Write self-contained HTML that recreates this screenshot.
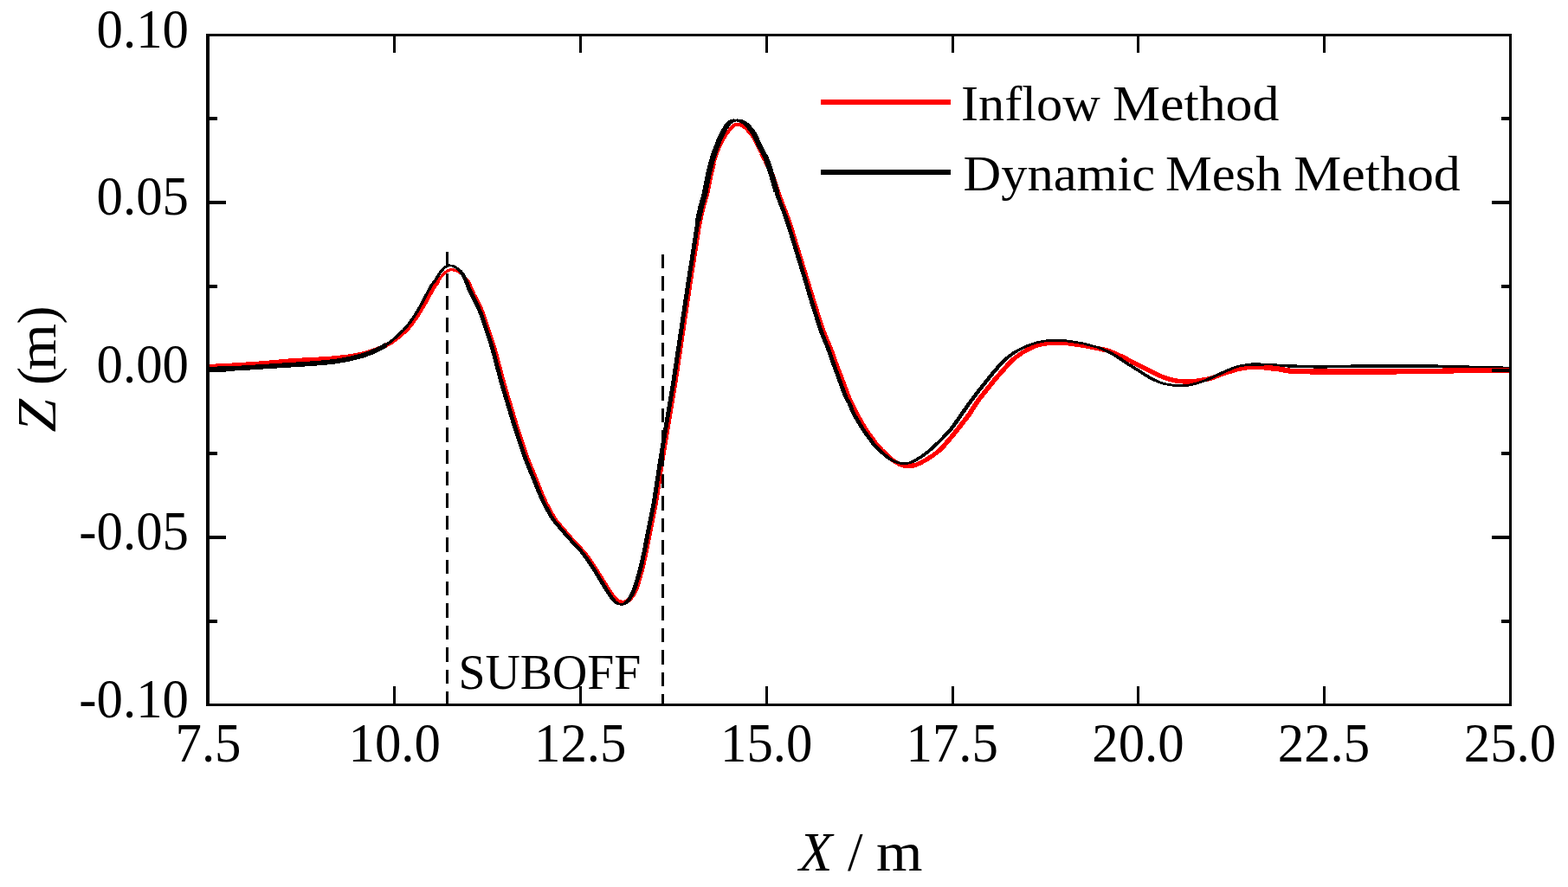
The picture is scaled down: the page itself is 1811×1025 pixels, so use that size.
<!DOCTYPE html>
<html lang="en">
<head>
<meta charset="utf-8">
<title>Wave profile: Inflow Method vs Dynamic Mesh Method</title>
<style>
html,body{margin:0;padding:0;background:#fff;}
body{width:1811px;height:1025px;overflow:hidden;}
svg{display:block;}
text{font-family:"Liberation Serif", "DejaVu Serif", serif;fill:#000;white-space:pre;}
</style>
</head>
<body>
<svg width="1811" height="1025" viewBox="0 0 1811 1025">
<rect x="0" y="0" width="1811" height="1025" fill="#fff"/>
<g id="curves">
<defs>
<clipPath id="plotclip"><rect x="240" y="42" width="1504" height="771"/></clipPath>
<path id="redA" d="M240.0 423.5 L254.5 423.0 L296.0 420.5 L338.0 416.8 L374.0 414.9 L389.0 413.7 L402.5 412.2 L413.5 410.2 L423.5 407.9 L433.0 404.8 L443.0 400.6 L451.5 395.9 L456.5 392.3 L463.0 387.0 L467.0 383.5 L470.5 380.0 L475.5 373.8 L482.0 364.5 L490.5 350.1 L498.0 336.3 L501.5 330.9 L506.0 324.7"/>
<path id="redC" d="M539.0 323.6 L540.5 326.5 L546.5 340.0 L549.5 345.2 L552.5 351.2 L556.0 359.3 L558.5 365.8 L569.5 399.0 L573.0 411.4 L580.0 438.0 L584.5 453.4 L595.5 490.0 L607.0 524.9 L609.5 531.8 L613.5 541.2 L625.0 569.9 L630.0 581.2 L638.0 595.8 L642.0 601.9 L658.0 620.7 L673.5 637.5 L678.5 643.9 L689.5 660.4 L704.5 684.5 L708.5 689.9 L711.5 693.1 L713.5 694.6 L715.5 695.6 L718.0 696.3 L719.5 696.5 L721.0 696.3 L723.5 695.4 L725.5 693.9 L728.0 691.5 L731.5 686.9 L734.0 682.0 L736.5 674.6 L741.0 658.8 L744.5 644.1 L755.5 589.2 L758.0 575.0 L765.5 525.5 L779.5 442.0 L797.5 321.6 L807.0 261.3 L809.0 251.1 L811.0 242.4 L816.0 225.0 L820.0 205.0 L824.0 189.0"/>
<path id="redE" d="M880.0 177.8 L884.5 186.0 L892.5 204.0 L900.0 226.7 L909.5 251.5 L914.0 265.1 L939.5 348.2 L948.5 376.5 L952.0 386.0 L958.5 401.3 L965.0 419.2 L978.5 455.0 L982.0 463.5 L988.5 476.9 L996.5 491.0 L1001.5 498.7 L1011.5 512.5 L1017.5 519.3 L1029.0 530.2 L1033.5 533.5 L1039.0 536.4 L1044.0 538.1 L1048.0 538.5 L1052.0 538.5 L1057.5 537.4 L1062.5 535.2 L1069.5 531.5 L1078.0 526.0 L1084.0 521.4 L1087.0 518.6 L1090.0 515.3 L1099.0 504.8 L1107.0 495.0 L1119.0 479.4 L1128.5 464.7 L1132.5 459.2 L1151.0 436.3 L1166.0 419.4 L1169.5 415.9 L1173.0 413.0 L1181.0 407.4 L1185.5 404.8 L1190.0 402.5 L1196.0 399.8 L1200.0 398.5 L1207.5 396.9 L1215.0 396.2 L1221.5 396.0 L1231.5 396.4 L1250.5 399.1 L1278.5 404.8 L1283.5 406.5 L1299.0 413.5 L1311.5 420.3 L1340.0 434.5 L1346.5 436.9 L1353.0 438.8 L1358.0 439.9 L1364.0 440.7 L1370.5 441.0 L1380.0 440.5 L1385.0 439.9 L1393.5 438.3 L1401.0 436.4 L1410.5 432.6 L1426.0 427.6 L1430.0 426.5 L1437.0 425.1 L1443.0 424.5 L1449.5 424.2 L1462.0 424.8"/>
<path id="redD" d="M1460.0 424.7 L1475.5 426.1 L1486.5 428.2 L1490.0 428.6 L1518.5 429.6 L1607.0 429.5 L1692.5 428.2 L1745.0 427.9"/>
<path id="blackB" d="M444.0 399.7 L451.0 395.0 L457.5 389.5 L466.5 380.9 L472.5 373.9 L477.5 366.8 L482.5 358.9 L489.5 346.4 L495.0 335.5 L498.0 330.0 L503.0 323.5 L508.0 315.5 L512.0 310.5 L514.5 308.4 L516.0 307.6 L519.0 306.8 L521.5 307.0 L524.0 307.7 L526.5 309.2 L530.0 311.8 L533.0 314.9"/>
<path id="blackC" d="M531.0 312.7 L534.0 316.3 L537.0 321.8 L538.5 325.3 L542.0 334.6 L551.5 353.4 L554.0 359.0 L556.5 365.5 L567.5 398.7 L571.0 411.0 L577.5 436.1 L580.0 445.0 L593.0 488.4 L604.5 523.4 L607.5 531.8 L623.5 571.1 L627.5 580.2 L636.0 595.8 L640.0 601.9 L656.0 620.7 L671.5 637.5 L677.0 644.6 L687.5 660.4 L701.5 683.4 L708.0 692.8 L710.0 695.0 L712.5 696.9 L714.0 697.7 L717.0 698.3 L718.5 698.4 L720.0 698.1 L722.0 697.2 L723.5 696.1 L725.5 694.0 L727.0 692.0 L730.0 686.7 L732.5 680.9 L735.0 673.4 L738.5 661.4 L741.5 649.4 L744.0 637.8 L755.5 579.4 L763.5 526.7 L778.0 440.1 L796.0 319.7 L801.5 285.0 L804.5 264.6 L806.5 253.3 L809.5 240.0 L814.0 223.7 L817.5 205.5 L820.0 194.5 L822.5 185.0 L825.5 175.6 L831.0 161.4 L833.5 156.0 L836.5 150.3 L839.5 145.5 L841.5 142.8 L843.5 141.1 L845.5 139.9 L850.0 139.0 L852.0 139.1 L855.0 139.6 L857.0 140.4 L859.5 141.8 L863.5 145.3 L869.0 152.2 L871.5 156.0 L876.0 165.8 L885.5 184.7 L891.0 201.4 L898.5 227.2 L907.0 249.5 L911.0 261.4 L928.5 318.5 L938.0 350.4 L947.0 378.9 L950.0 387.1 L956.0 401.6 L962.5 420.0 L975.5 455.4 L977.5 460.0 L981.0 466.1 L984.5 475.0 L987.5 480.7 L995.5 494.2 L1000.0 500.8 L1009.0 513.2 L1013.0 517.7 L1018.5 522.9 L1026.5 529.6 L1030.5 532.0 L1035.5 534.1 L1040.0 535.3 L1045.5 535.8 L1050.0 535.0 L1054.0 533.6 L1061.0 529.7 L1066.0 526.5 L1072.0 521.9 L1078.0 516.6 L1086.0 509.1 L1093.5 501.3 L1098.5 495.7 L1102.5 490.4 L1118.0 468.0 L1128.0 454.6 L1147.5 430.2 L1154.0 422.7 L1158.5 417.9 L1163.0 413.8 L1167.0 410.5 L1170.5 408.0 L1175.0 405.2 L1180.5 402.4 L1186.0 399.9 L1192.5 397.4 L1197.5 395.8 L1204.5 394.3 L1209.5 393.7 L1220.5 393.5 L1231.5 393.8 L1243.0 395.5 L1250.5 396.8 L1268.0 401.4 L1272.0 402.8 L1276.0 404.6 L1282.0 407.5 L1287.5 410.5 L1292.0 413.3 L1300.5 419.1 L1323.5 433.7 L1328.0 436.4 L1333.0 439.0 L1338.0 441.3 L1343.5 443.1 L1348.5 444.2 L1356.5 445.5 L1361.5 445.7 L1371.5 445.4 L1375.0 444.8 L1383.0 442.7 L1389.0 440.8 L1394.0 438.9 L1416.5 428.5 L1426.0 424.6 L1429.5 423.5 L1434.0 422.5 L1442.0 421.4"/>
<path id="blackP" d="M806.0 255.9 L809.5 240.0 L814.0 223.7 L817.5 205.5 L820.0 194.5 L822.5 185.0 L825.5 175.6 L831.0 161.4 L833.5 156.0 L836.5 150.3 L839.5 145.5 L841.5 142.8 L843.5 141.1 L846.0 139.7 L849.5 139.0 L852.5 139.2 L855.5 139.8 L859.0 141.5 L861.5 143.4 L864.0 145.9 L868.5 151.5 L871.0 155.2 L877.0 167.9 L884.0 181.5 L886.0 186.0 L891.5 203.0 L897.0 222.3"/>
</defs>
<g clip-path="url(#plotclip)" fill="none" stroke-linejoin="round" stroke-linecap="butt" shape-rendering="crispEdges">
<g stroke="#ff0000" stroke-width="3.6">
<use href="#redA" x="-1.2"/><use href="#redA" x="1.2"/><use href="#redA" y="-0.9"/><use href="#redA" y="0.9"/>
<path d="M504.0 327.4 L510.0 319.3 L513.0 316.0 L515.5 313.9 L517.0 313.0 L519.5 312.0 L521.5 311.7 L524.0 312.0 L527.0 312.8 L530.5 314.6 L533.5 316.6 L535.5 318.5 L537.0 320.5 L539.5 324.5 L541.0 327.6" stroke-width="3.2"/>
<use href="#redC" x="-1.2"/><use href="#redC" x="1.2"/><use href="#redC" y="-0.9"/><use href="#redC" y="0.9"/>
<path d="M822.0 196.6 L824.5 187.3 L827.5 178.4 L831.0 169.8 L834.5 162.5 L838.0 156.5 L842.5 150.3 L847.0 145.3 L850.0 143.7 L851.0 143.5 L853.0 143.7 L855.0 144.1 L856.5 144.8 L861.0 148.1 L866.0 153.2 L870.0 158.8 L874.0 166.9 L882.0 181.3" stroke-width="4"/>
<use href="#redE" x="-1.2"/><use href="#redE" x="1.2"/><use href="#redE" y="-0.9"/><use href="#redE" y="0.9"/>
</g>
<g stroke="#000000">
<path d="M240.0 426.5 L262.0 426.1 L277.5 425.4 L361.5 420.1 L376.0 418.9 L386.5 417.7 L396.0 416.2 L405.0 414.5 L413.0 412.5 L420.5 410.3 L427.0 408.0 L434.0 405.0 L441.0 401.5 L446.0 398.5" stroke-width="5.6"/>
<g stroke-width="2.6"><use href="#blackB" x="-0.5"/><use href="#blackB" x="0.5"/></g>
<g stroke-width="2"><use href="#blackC" x="-1.5"/><use href="#blackC"/><use href="#blackC" x="1.5"/><use href="#blackC" y="-0.4"/><use href="#blackC" y="0.4"/></g>
<g stroke-width="2.6"><use href="#blackP" x="-2" y="-0.2"/><use href="#blackP" x="2" y="-0.2"/></g>
<path d="M1440.0 421.6 L1447.0 421.1 L1452.5 421.0 L1488.5 422.9 L1520.0 423.9 L1535.0 423.8 L1573.0 422.9 L1637.5 422.9 L1667.5 423.3 L1725.0 425.1 L1745.0 425.3" stroke-width="3.4"/>
</g>
<g stroke="#ff0000" stroke-width="3.6">
<use href="#redD" x="-1.2"/><use href="#redD" x="1.2"/><use href="#redD" y="-1.3"/><use href="#redD" y="1.3"/>
</g>
</g>
<g shape-rendering="crispEdges">
<line x1="516.5" y1="291" x2="516.5" y2="815" stroke="#000" stroke-width="3" stroke-dasharray="16.4 9"/>
<line x1="765.5" y1="294" x2="765.5" y2="816" stroke="#000" stroke-width="3" stroke-dasharray="16.4 9"/>
<rect x="948" y="115" width="150" height="6" fill="#ff0000"/>
<rect x="948" y="196" width="150" height="6" fill="#000000"/>
</g>

</g>
<g id="frame" shape-rendering="crispEdges">
<rect x="238" y="39" width="4" height="777" fill="#000"/>
<rect x="1743" y="39" width="3" height="777" fill="#000"/>
<rect x="238" y="39" width="1508" height="3" fill="#000"/>
<rect x="238" y="813" width="1508" height="3" fill="#000"/>
<rect x="454" y="42" width="3" height="19" fill="#000"/>
<rect x="454" y="793" width="3" height="20" fill="#000"/>
<rect x="669" y="42" width="3" height="19" fill="#000"/>
<rect x="669" y="793" width="3" height="20" fill="#000"/>
<rect x="884" y="42" width="3" height="19" fill="#000"/>
<rect x="884" y="793" width="3" height="20" fill="#000"/>
<rect x="1099" y="42" width="3" height="19" fill="#000"/>
<rect x="1099" y="793" width="3" height="20" fill="#000"/>
<rect x="1313" y="42" width="3" height="19" fill="#000"/>
<rect x="1313" y="793" width="3" height="20" fill="#000"/>
<rect x="1528" y="42" width="3" height="19" fill="#000"/>
<rect x="1528" y="793" width="3" height="20" fill="#000"/>
<rect x="242" y="232" width="19" height="4" fill="#000"/>
<rect x="1723" y="232" width="20" height="4" fill="#000"/>
<rect x="242" y="426" width="19" height="4" fill="#000"/>
<rect x="1723" y="426" width="20" height="4" fill="#000"/>
<rect x="242" y="619" width="19" height="4" fill="#000"/>
<rect x="1723" y="619" width="20" height="4" fill="#000"/>
<rect x="242" y="135" width="9" height="4" fill="#000"/>
<rect x="1734" y="135" width="9" height="4" fill="#000"/>
<rect x="242" y="329" width="9" height="4" fill="#000"/>
<rect x="1734" y="329" width="9" height="4" fill="#000"/>
<rect x="242" y="522" width="9" height="4" fill="#000"/>
<rect x="1734" y="522" width="9" height="4" fill="#000"/>
<rect x="242" y="716" width="9" height="4" fill="#000"/>
<rect x="1734" y="716" width="9" height="4" fill="#000"/>
</g>
<g id="labels">
<text transform="translate(218 54.5) scale(0.966 1)" text-anchor="end" style="font-size:63px;">0.10</text>
<text transform="translate(218 247.5) scale(0.966 1)" text-anchor="end" style="font-size:63px;">0.05</text>
<text transform="translate(218 442) scale(0.966 1)" text-anchor="end" style="font-size:63px;">0.00</text>
<text transform="translate(218 635) scale(0.966 1)" text-anchor="end" style="font-size:63px;">-0.05</text>
<text transform="translate(218 828.5) scale(0.966 1)" text-anchor="end" style="font-size:63px;">-0.10</text>
<text transform="translate(240.5 879.5) scale(0.966 1)" text-anchor="middle" style="font-size:63px;">7.5</text>
<text transform="translate(455.7 879.5) scale(0.966 1)" text-anchor="middle" style="font-size:63px;">10.0</text>
<text transform="translate(670.2 879.5) scale(0.966 1)" text-anchor="middle" style="font-size:63px;">12.5</text>
<text transform="translate(885.2 879.5) scale(0.966 1)" text-anchor="middle" style="font-size:63px;">15.0</text>
<text transform="translate(1099.7 879.5) scale(0.966 1)" text-anchor="middle" style="font-size:63px;">17.5</text>
<text transform="translate(1314.5 879.5) scale(0.966 1)" text-anchor="middle" style="font-size:63px;">20.0</text>
<text transform="translate(1529 879.5) scale(0.966 1)" text-anchor="middle" style="font-size:63px;">22.5</text>
<text transform="translate(1744 879.5) scale(0.966 1)" text-anchor="middle" style="font-size:63px;">25.0</text>
<text transform="translate(0 1006)" text-anchor="start" style="font-size:63px;"><tspan x="923" style="font-style:italic">X</tspan><tspan x="965"> </tspan><tspan x="979">/</tspan><tspan x="998"> </tspan><tspan x="1012" textLength="53.5" lengthAdjust="spacingAndGlyphs">m</tspan></text>
<text transform="translate(63.5 499.5) rotate(-90)" text-anchor="start" style="font-size:63px;"><tspan x="0" textLength="38.4" lengthAdjust="spacingAndGlyphs" style="font-style:italic">Z</tspan><tspan x="40"> </tspan><tspan x="54.5">(</tspan><tspan x="71.5" textLength="54" lengthAdjust="spacingAndGlyphs">m</tspan><tspan x="125">)</tspan></text>
<text transform="translate(529.6 795.8)" text-anchor="start" style="font-size:57px;"><tspan textLength="210.6" lengthAdjust="spacingAndGlyphs">SUBOFF</tspan></text>
<text transform="translate(0 139)" text-anchor="start" style="font-size:57px;"><tspan x="1110" textLength="160.8" lengthAdjust="spacingAndGlyphs">Inflow</tspan><tspan x="1271"> </tspan><tspan x="1285" textLength="192.5" lengthAdjust="spacingAndGlyphs">Method</tspan></text>
<text transform="translate(0 220)" text-anchor="start" style="font-size:57px;"><tspan x="1112.5" textLength="221.7" lengthAdjust="spacingAndGlyphs">Dynamic</tspan><tspan x="1333"> </tspan><tspan x="1346" textLength="134.6" lengthAdjust="spacingAndGlyphs">Mesh</tspan><tspan x="1481"> </tspan><tspan x="1494.3" textLength="192.5" lengthAdjust="spacingAndGlyphs">Method</tspan></text>
</g>
</svg>
</body>
</html>
